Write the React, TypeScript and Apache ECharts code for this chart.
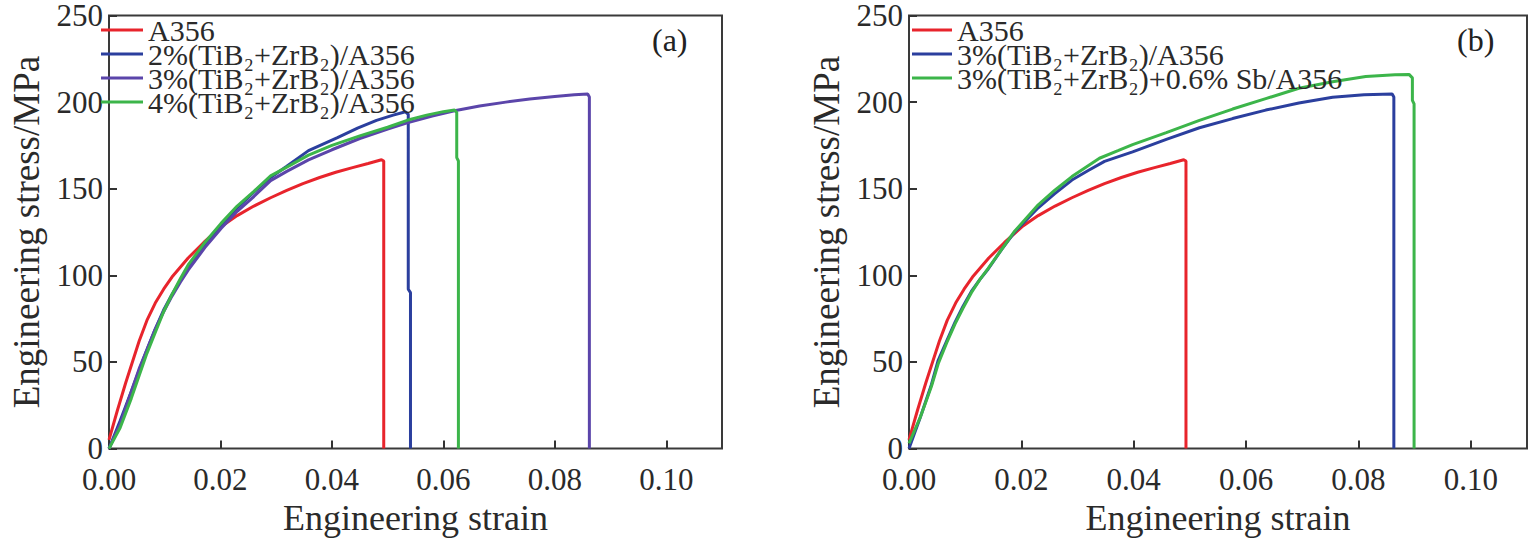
import React, { useEffect, useRef } from 'react';
import * as echarts from 'echarts';

// stress-strain data: [strain, stress (MPa)]
const a356: number[][] = [
  [0, 5], [0.0015, 22], [0.003, 38], [0.0054, 62], [0.0068, 74], [0.0083, 84], [0.0098, 92],
  [0.0113, 99], [0.0142, 110], [0.017, 119], [0.0201, 128], [0.023, 134.5], [0.026, 140],
  [0.029, 144.8], [0.0319, 149], [0.0348, 153], [0.0378, 156.5], [0.0407, 159.5], [0.0437, 162.2],
  [0.0465, 164.6], [0.0489, 166.7], [0.0493, 166], [0.0493, 0],
];

const tib2Zrb2_2: number[][] = [
  [0, 0], [0.002, 16], [0.004, 33], [0.0054, 45], [0.0068, 57], [0.0083, 69], [0.0098, 80],
  [0.0113, 89], [0.0128, 97], [0.0142, 104], [0.0172, 117], [0.0201, 128], [0.023, 139],
  [0.026, 148], [0.029, 156.5], [0.0319, 163], [0.0358, 172], [0.041, 179.5], [0.0446, 185],
  [0.048, 189.5], [0.051, 192.5], [0.0532, 194.4], [0.0537, 193], [0.0537, 92], [0.0541, 90],
  [0.0541, 0],
];

const tib2Zrb2_3a: number[][] = [
  [0, 0], [0.002, 14], [0.004, 33], [0.0054, 46], [0.0068, 57], [0.0083, 69], [0.0098, 79],
  [0.0113, 88], [0.0128, 96], [0.0142, 103], [0.0172, 116], [0.0201, 127], [0.023, 137],
  [0.026, 145.5], [0.029, 154.7], [0.0319, 160], [0.0358, 166.7], [0.04, 172.5], [0.045, 179],
  [0.05, 184.5], [0.0535, 188], [0.058, 192], [0.062, 195], [0.0665, 197.8], [0.0712, 200],
  [0.0755, 201.8], [0.08, 203.2], [0.0835, 204.2], [0.0859, 204.7], [0.0862, 203], [0.0862, 0],
];

const tib2Zrb2_4: number[][] = [
  [0, 0], [0.002, 12], [0.004, 29], [0.0054, 42], [0.0068, 55], [0.0083, 67], [0.0098, 79],
  [0.0113, 89], [0.0128, 98], [0.0142, 106], [0.0172, 119], [0.0201, 130], [0.023, 140],
  [0.026, 148.5], [0.029, 157.4], [0.0319, 162.5], [0.0358, 169.4], [0.04, 175], [0.045, 180.5],
  [0.05, 185.5], [0.0535, 189.5], [0.057, 192.5], [0.06, 194.5], [0.062, 195.4], [0.0624, 194],
  [0.0624, 168], [0.0627, 166], [0.0627, 0],
];

const tib2Zrb2_3b: number[][] = [
  [0, 0], [0.002, 18], [0.004, 37], [0.0052, 51], [0.0067, 62], [0.0082, 73], [0.0096, 82],
  [0.0111, 90.7], [0.0126, 97.5], [0.0141, 103.7], [0.0165, 115], [0.0188, 125], [0.023, 139],
  [0.0259, 147], [0.029, 155], [0.0319, 160.5], [0.0348, 165.8], [0.0398, 171.3], [0.0458, 178.5],
  [0.0517, 185.2], [0.0576, 190.5], [0.0635, 195.4], [0.0694, 199.5], [0.0754, 202.8],
  [0.081, 204.2], [0.086, 204.7], [0.0863, 203], [0.0863, 0],
];

const tib2Zrb2Sb: number[][] = [
  [0, 3], [0.002, 18], [0.004, 36], [0.0052, 49], [0.0067, 61], [0.0082, 72], [0.0096, 81],
  [0.0111, 90], [0.0126, 97.5], [0.0141, 104], [0.0165, 115], [0.0188, 125.5], [0.023, 140.7],
  [0.0259, 149], [0.029, 157], [0.0339, 167.6], [0.0372, 172], [0.0398, 175.5], [0.0458, 182.4],
  [0.0517, 189.5], [0.0576, 196], [0.0635, 202], [0.0694, 208], [0.0754, 211.8], [0.0813, 214.8],
  [0.0865, 215.8], [0.089, 216], [0.0896, 214], [0.0896, 201], [0.0899, 199], [0.0899, 0],
];

const namesA = ['A356', '2%(TiB₂+ZrB₂)/A356', '3%(TiB₂+ZrB₂)/A356', '4%(TiB₂+ZrB₂)/A356'];
const namesB = ['A356', '3%(TiB₂+ZrB₂)/A356', '3%(TiB₂+ZrB₂)+0.6% Sb/A356'];

const RED = '#e8242c';
const BLUE = '#2b3f9e';
const PURPLE = '#5b45aa';
const GREEN = '#3cb54a';

const FONT = 'Liberation Serif';

interface PanelCfg {
  label: string;
  gridLeft: number;
  gridWidth: number;
  legendLeft: number;
  itemWidth: number;
  names: string[];
  colors: string[];
  data: number[][][];
}

function makeOption(cfg: PanelCfg) {
  return {
    animation: false,
    grid: {
      left: cfg.gridLeft,
      top: 13,
      width: cfg.gridWidth,
      height: 449,
      show: true,
      borderColor: '#3a3a3a',
      borderWidth: 2,
    },
    legend: {
      orient: 'vertical',
      left: cfg.legendLeft,
      top: 15,
      padding: 0,
      itemGap: -6,
      itemWidth: cfg.itemWidth,
      itemHeight: 3,
      icon: 'rect',
      data: cfg.names,
      textStyle: { fontFamily: FONT, fontSize: 30, color: '#2a2a2a' },
    },
    graphic: [
      {
        type: 'text',
        left: cfg.gridLeft + cfg.gridWidth - 70,
        top: 24,
        style: { text: cfg.label, fontFamily: FONT, fontSize: 32, fill: '#222' },
      },
    ],
    xAxis: {
      type: 'value',
      min: 0,
      max: 0.11,
      interval: 0.02,
      name: 'Engineering strain',
      nameLocation: 'middle',
      nameGap: 48,
      nameTextStyle: { fontFamily: FONT, fontSize: 36, color: '#2a2a2a' },
      axisLine: { show: false },
      axisTick: { inside: true, length: 8, lineStyle: { color: '#333', width: 2 } },
      axisLabel: {
        showMaxLabel: false,
        margin: 18,
        fontFamily: FONT,
        fontSize: 31,
        lineHeight: 26,
        color: '#2a2a2a',
        formatter: (v: number) => v.toFixed(2),
      },
      splitLine: { show: false },
    },
    yAxis: {
      type: 'value',
      min: 0,
      max: 250,
      interval: 50,
      name: 'Engineering stress/MPa',
      nameLocation: 'middle',
      nameGap: 64,
      nameTextStyle: { fontFamily: FONT, fontSize: 37, color: '#2a2a2a' },
      axisLine: { show: false },
      axisTick: { inside: true, length: 8, lineStyle: { color: '#333', width: 2 } },
      axisLabel: { margin: 6, fontFamily: FONT, fontSize: 31, lineHeight: 24, color: '#2a2a2a' },
      splitLine: { show: false },
    },
    series: cfg.names.map((name, i) => ({
      name,
      type: 'line',
      data: cfg.data[i],
      symbol: 'none',
      showSymbol: false,
      smooth: false,
      lineStyle: { color: cfg.colors[i], width: 3 },
      itemStyle: { color: cfg.colors[i] },
    })),
  };
}

const Panel: React.FC<{ cfg: PanelCfg; left: number; width: number }> = ({ cfg, left, width }) => {
  const ref = useRef<HTMLDivElement>(null);

  useEffect(() => {
    if (!ref.current) return;
    const chart = echarts.init(ref.current, undefined, { renderer: 'svg' });
    chart.setOption(makeOption(cfg));
    return () => {
      chart.dispose();
    };
  }, [cfg]);

  return (
    <div
      ref={ref}
      style={{ position: 'absolute', left, top: 0, width, height: 541 }}
    />
  );
};

const cfgA: PanelCfg = {
  label: '(a)',
  gridLeft: 98,
  gridWidth: 624,
  legendLeft: 101,
  itemWidth: 42,
  names: namesA,
  colors: [RED, BLUE, PURPLE, GREEN],
  data: [a356, tib2Zrb2_2, tib2Zrb2_3a, tib2Zrb2_4],
};

const cfgB: PanelCfg = {
  label: '(b)',
  gridLeft: 129,
  gridWidth: 618,
  legendLeft: 132,
  itemWidth: 40,
  names: namesB,
  colors: [RED, BLUE, GREEN],
  data: [a356, tib2Zrb2_3b, tib2Zrb2Sb],
};

export default function App() {
  return (
    <div style={{ position: 'fixed', left: 0, top: 0, width: 1533, height: 541, background: '#fff' }}>
      <Panel cfg={cfgA} left={0} width={780} />
      <Panel cfg={cfgB} left={780} width={753} />
    </div>
  );
}
